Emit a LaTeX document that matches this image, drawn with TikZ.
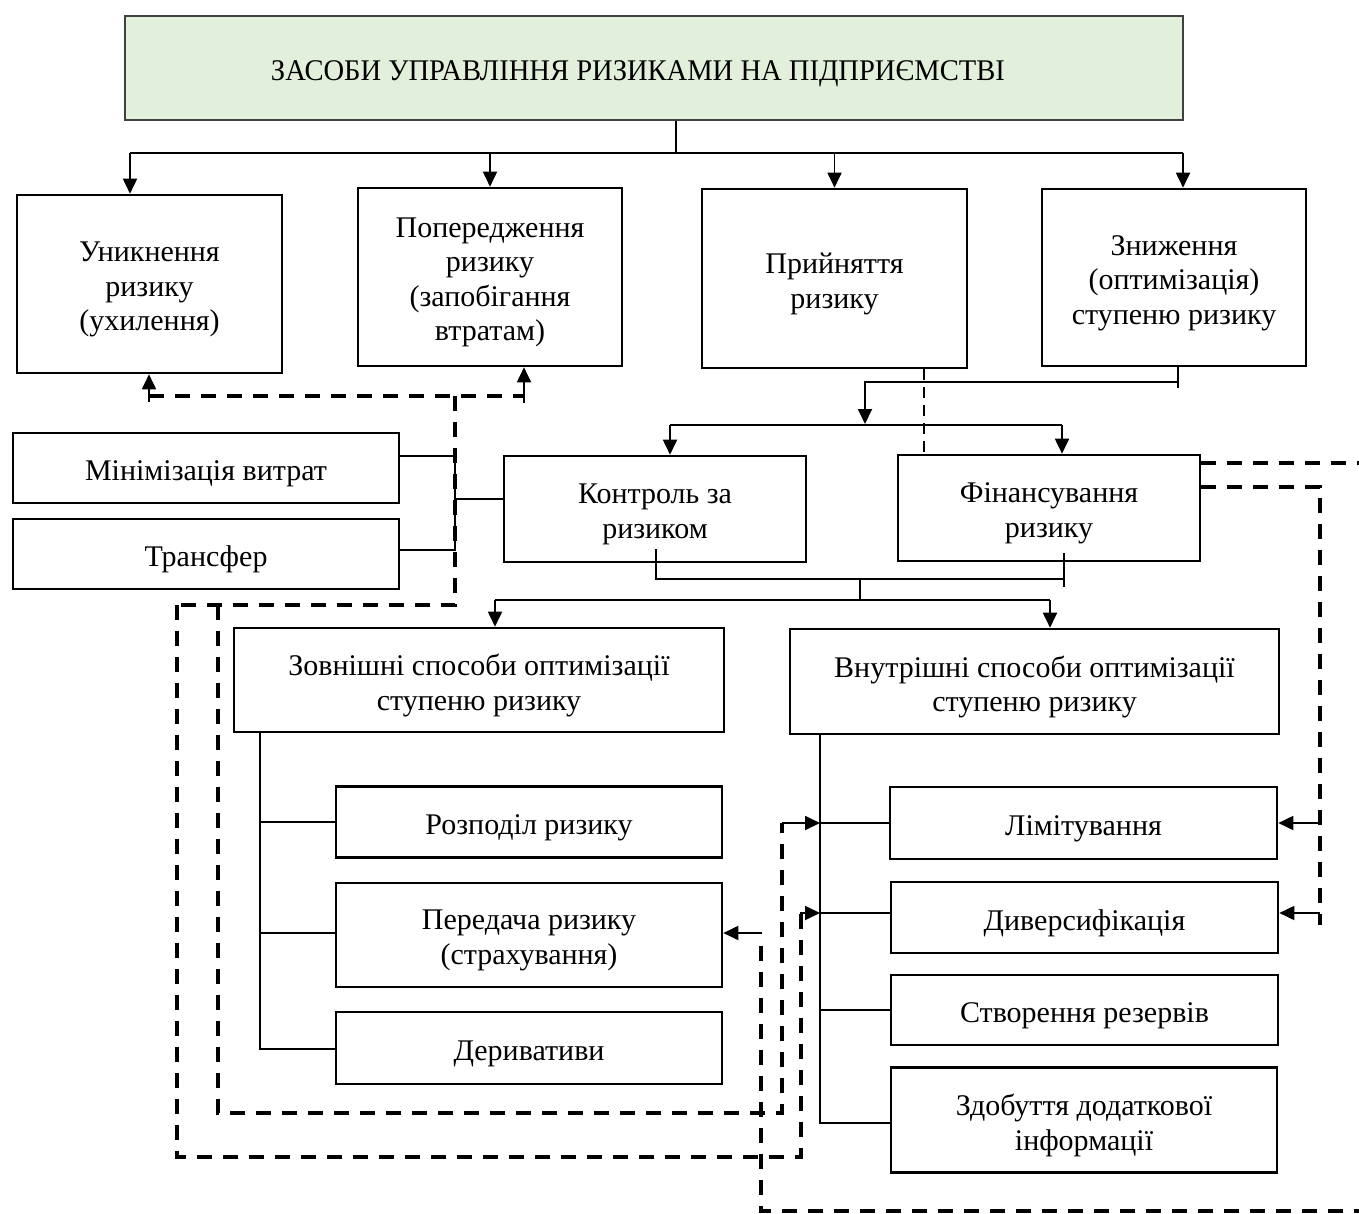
\documentclass[tikz,border=0pt]{standalone}
\usepackage{fontspec}
\setmainfont{Liberation Serif}
\usetikzlibrary{arrows.meta}
\definecolor{headfill}{HTML}{E2EFDA}
\definecolor{headline}{HTML}{404040}

\begin{document}
\begin{tikzpicture}[x=1pt,y=-1pt,
  txt/.style={align=center, inner sep=0pt, yshift=-5.5pt,
    font=\fontsize{30}{34.5}\selectfont},
  box/.style={draw, line width=2.6pt, inner sep=0pt,
    label={[txt]center:{#1}}},
  link/.style={line width=1.8pt},
  bus/.style={line width=2.6pt},
  arr/.style={line width=1.8pt, -{Triangle[length=15pt,width=14pt]}},
  dlink/.style={line width=3.6pt, dash pattern=on 15pt off 11pt},
  thindash/.style={line width=1.8pt, dash pattern=on 11pt off 7pt}
]
\useasboundingbox (0,0) rectangle (1359,1214);

% header
\node[box={\scalebox{0.952}[1]{ЗАСОБИ УПРАВЛІННЯ РИЗИКАМИ НА ПІДПРИЄМСТВІ}\kern32pt},
  fill=headfill, draw=headline, line width=1.6pt,
  minimum width=1058pt, minimum height=104pt] (top) at (654,68) {};

% first level
\node[box={Уникнення\\ризику\\(ухилення)},
  minimum width=265pt, minimum height=178pt] (b1) at (149.5,284) {};
\node[box={Попередження\\ризику\\(запобігання\\втратам)},
  minimum width=264pt, minimum height=178pt] (b2) at (490,277) {};
\node[box={Прийняття\\ризику},
  minimum width=265pt, minimum height=179pt] (b3) at (834.5,278.5) {};
\node[box={Зниження\\(оптимізація)\\ступеню ризику},
  minimum width=264pt, minimum height=177pt] (b4) at (1174,277.5) {};

% second level
\node[box={Мінімізація витрат},
  minimum width=386pt, minimum height=70pt] (min) at (206,468) {};
\node[box={Трансфер},
  minimum width=386pt, minimum height=70pt] (tr) at (206,554) {};
\node[box={Контроль за\\ризиком},
  minimum width=302pt, minimum height=106pt] (ctl) at (655,509) {};
\node[box={Фінансування\\ризику},
  minimum width=302pt, minimum height=106pt] (fin) at (1049,508) {};

% optimisation groups
\node[box={Зовнішні способи оптимізації\\ступеню ризику},
  minimum width=490pt, minimum height=104pt] (ext) at (479,680) {};
\node[box={Внутрішні способи оптимізації\\ступеню ризику},
  minimum width=489pt, minimum height=105pt] (int) at (1034.5,681.5) {};

\node[box={Розподіл ризику},
  minimum width=386pt, minimum height=71pt] (rozp) at (529,822) {};
\node[box={Передача ризику\\(страхування)},
  minimum width=386pt, minimum height=104pt] (pered) at (529,935) {};
\node[box={Деривативи},
  minimum width=386pt, minimum height=72pt] (deriv) at (529,1048) {};

\node[box={Лімітування},
  minimum width=387pt, minimum height=72pt] (lim) at (1083.5,823) {};
\node[box={Диверсифікація},
  minimum width=387pt, minimum height=71pt] (div) at (1084.5,917.5) {};
\node[box={Створення резервів},
  minimum width=387pt, minimum height=70pt] (stv) at (1084.5,1010) {};
\node[box={Здобуття додаткової\\інформації},
  minimum width=386pt, minimum height=105pt] (zdob) at (1084,1120) {};

% header to first level
\coordinate (busM) at (676,153);
\coordinate (busL) at (130,153);
\coordinate (busR) at (1183,153);
\draw[link] (top.south -| busM) -- (busM);
\draw[bus] (busL) -- (busR);
\draw[arr] (busL) -- (busL |- b1.north);
\draw[arr] (b2.north |- busL) -- (b2.north);
\draw[arr] (b3.north |- busL) -- (b3.north);
\draw[arr] (busR) -- (busR |- b4.north);

% risk reduction splits into control and financing
\coordinate (k1) at (1178,382);
\coordinate (k2) at (865,382);
\coordinate (m1) at (670,425);
\coordinate (m2) at (1062,425);
\draw[link] (b4.south -| k1) -- ([yshift=-6pt]k1);
\draw[arr] (k1) -- (k2) -- ([yshift=1pt]k2 |- m1);
\draw[link] (m1) -- (m2);
\draw[arr] (m1) -- (m1 |- ctl.north);
\draw[arr] (m2) -- (m2 |- fin.north);
\coordinate (q) at (924,0);
\draw[thindash] (b3.south -| q) -- (fin.north -| q);

% control: cost minimisation and transfer
\coordinate (j1) at (455,456);
\coordinate (j2) at (455,550);
\coordinate (j3) at (455,499);
\draw[link] (min.east |- j1) -- (j1) -- (j2) -- (tr.east |- j2);
\draw[link] (j3) -- (j3 -| ctl.west);

% avoidance and prevention fed back from the control branch
\coordinate (dA) at (149,396);
\coordinate (dB) at (524,396);
\coordinate (dC) at (455,396);
\coordinate (dD) at (455,605);
\coordinate (dE) at (177,605);
\coordinate (dF) at (218,605);
\draw[dlink] (dA) -- (dB);
\draw[arr] ([yshift=-6pt]dA) -- (dA |- b1.south);
\draw[arr] ([yshift=-7pt]dB) -- (dB |- b2.south);
\draw[dlink] (dC) -- (dD) -- (dE);

% control and financing to the two optimisation groups
\coordinate (n1) at (656,579);
\coordinate (n2) at (1064,579);
\coordinate (n3) at (860,579);
\coordinate (p1) at (495,600);
\coordinate (p2) at (1050,600);
\draw[link] ([yshift=30pt]n1) -- (n1) -- (n2);
\draw[link] ([yshift=26pt]n2) -- ([yshift=-8pt]n2);
\draw[link] (n3) -- (n3 |- p1);
\draw[link] (p1) -- (p2);
\draw[arr] (p1) -- (p1 |- ext.north);
\draw[arr] (p2) -- (p2 |- int.north);

% external methods
\coordinate (lt) at (260,1049);
\draw[link] (lt |- ext.south) -- (lt) -- (lt -| deriv.west);
\draw[link] (rozp.west -| lt) -- (rozp.west);
\draw[link] (lt |- 0,933) -- (pered.west |- 0,933);

% internal methods
\coordinate (rt) at (820,1123);
\coordinate (rl) at (820,823);
\coordinate (rd) at (820,913);
\coordinate (rs) at (820,1010);
\draw[link] (rt |- int.south) -- (rt) -- (rt -| zdob.west);
\draw[link] (rl) -- (rl -| lim.west);
\draw[link] (rd) -- (rd -| div.west);
\draw[link] (rs) -- (rs -| stv.west);

% dashed feedback lines into the internal trunk
\coordinate (e1) at (801,1157);
\coordinate (e2) at (801,913);
\coordinate (f1) at (782,1113);
\coordinate (f2) at (782,823);
\draw[dlink] (dE) -- (dE |- e1) -- (e1) -- ([yshift=6pt]e2);
\draw[arr] ([xshift=-1pt]e2) -- (rd);
\draw[dlink] (dF) -- (dF |- f1) -- (f1) -- (f2);
\draw[arr] (f2) -- (rl);

% financing feedback lines
\coordinate (g1) at (1320,487);
\coordinate (g2) at (1320,925);
\coordinate (h1) at (1366,463);
\coordinate (h2) at (1366,1211);
\coordinate (h3) at (761,1211);
\coordinate (h4) at (761,940);
\coordinate (h5) at (762,933);
\draw[dlink] (fin.east |- g1) -- (g1) -- (g2);
\draw[arr] (g1 |- rl) -- (lim.east |- rl);
\draw[arr] (g1 |- rd) -- (div.east |- rd);
\draw[dlink] (fin.east |- h1) -- (h1) -- (h2) -- (h3) -- (h4);
\draw[arr] (h5) -- (pered.east |- h5);

\end{tikzpicture}
\end{document}
